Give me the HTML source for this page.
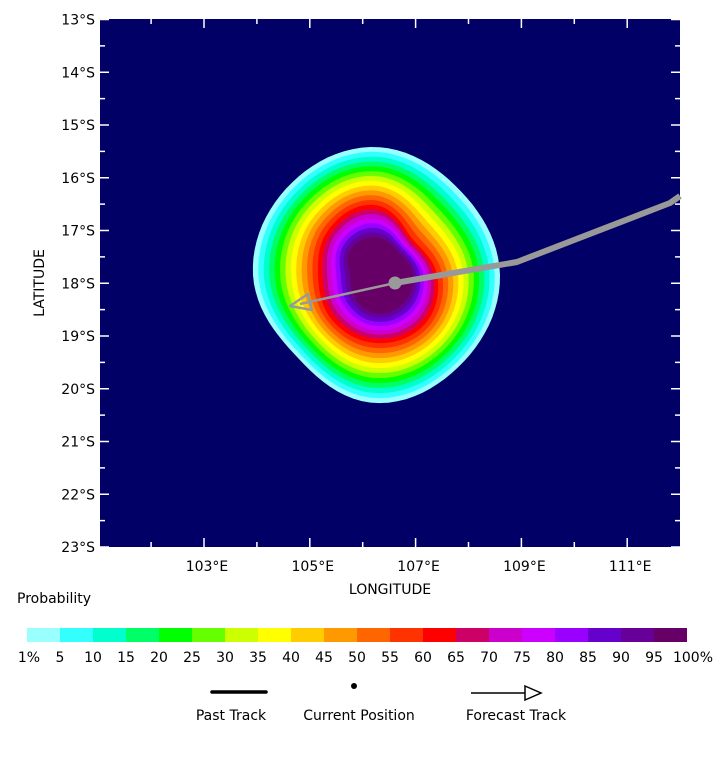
<!DOCTYPE html>
<html><head><meta charset="utf-8"><style>
html,body{margin:0;padding:0;background:#fff;}
svg text{font-family:"DejaVu Sans","Liberation Sans",sans-serif;font-size:14px;fill:#000;}
</style></head><body>
<svg id="s" width="720" height="757" viewBox="0 0 720 757" xmlns="http://www.w3.org/2000/svg">
<rect x="100" y="19" width="580" height="528" fill="#000066"/>
<g id="blob"></g>
<g id="ticks" stroke="#fff" stroke-width="1.5"></g>
<g stroke="#999" fill="none" stroke-linejoin="round">
<polyline points="680,196 670,203 517,262 395,283" stroke-width="6"/>
<line x1="395" y1="283" x2="300" y2="304" stroke-width="2.5"/>
<polygon points="290,306 308,294 312,310" stroke-width="2.5"/>
</g>
<circle cx="395" cy="283" r="6.5" fill="#999"/>
<g id="labels"></g>
<text x="44" y="283" text-anchor="middle" transform="rotate(-90 44 283)">LATITUDE</text>
<text x="390" y="594" text-anchor="middle">LONGITUDE</text>
<text x="17" y="603">Probability</text>
<g id="cbar"></g>
<line x1="212" y1="692" x2="266" y2="692" stroke="#000" stroke-width="3.5" stroke-linecap="round"/>
<circle cx="354" cy="686" r="3" fill="#000"/>
<line x1="471" y1="693" x2="525" y2="693" stroke="#000" stroke-width="1.5"/>
<polygon points="525,686 541,693 525,700" fill="none" stroke="#000" stroke-width="1.5"/>
<text x="231" y="720" text-anchor="middle">Past Track</text>
<text x="359" y="720" text-anchor="middle">Current Position</text>
<text x="516" y="720" text-anchor="middle">Forecast Track</text>
</svg>
<script>
var NS="http://www.w3.org/2000/svg";
function el(t,a,p,txt){var e=document.createElementNS(NS,t);for(var k in a)e.setAttribute(k,a[k]);if(txt!==undefined)e.textContent=txt;document.getElementById(p).appendChild(e);return e;}
var cols=["#99ffff","#33ffff","#00ffcc","#00ff66","#00ff00","#66ff00","#ccff00","#ffff00","#ffcc00","#ff9900","#ff6600","#ff3300","#ff0000","#cc0066","#cc00cc","#cc00ff","#9900ff","#6600cc","#660099","#660066"];
var labs=["1%","5","10","15","20","25","30","35","40","45","50","55","60","65","70","75","80","85","90","95","100%"];
for(var i=0;i<20;i++){el("rect",{x:27+i*33,y:628,width:33,height:14,fill:cols[i]},"cbar");}
for(var i=0;i<=20;i++){el("text",{x:27+i*33+(i==0?2:0)+(i==20?6:0),y:662,"text-anchor":"middle"},"cbar",labs[i]);}
var cx=375,cy=275;
var outer=[125,124,128,113,122,124,128,120];
var red=[62,70,68,62,57,65,70,52];
var core=[38,40,38,30,25,35,38,33];
function interp(arr,th){var n=8,t=(th/(2*Math.PI))*n;t=((t%n)+n)%n;var i0=Math.floor(t),f=t-i0;
 var p0=arr[(i0+n-1)%n],p1=arr[i0],p2=arr[(i0+1)%n],p3=arr[(i0+2)%n];
 return 0.5*((2*p1)+(-p0+p2)*f+(2*p0-5*p1+4*p2-p3)*f*f+(-p0+3*p1-3*p2+p3)*f*f*f);}
for(var L=0;L<20;L++){
 var pts=[];
 for(var k=0;k<90;k++){var th=k/90*2*Math.PI;var r;
  if(L<=12){var f=L/12;r=interp(outer,th)*(1-f)+interp(red,th)*f;}
  else{var f=(L-12)/7;r=interp(red,th)*(1-f)+interp(core,th)*f;}
  var x=cx+r*Math.cos(th),y=cy+r*Math.sin(th);
  pts.push(x.toFixed(1)+","+y.toFixed(1));}
 el("polygon",{points:pts.join(" "),fill:cols[L]},"blob");
}
function ly(lat){return 19.5+(lat-13)*52.75;}
function lx(lon){return 204+(lon-103)*52.9;}
for(var lat=13;lat<=23;lat+=0.5){var y=ly(lat);var big=(lat%1==0);var len=big?9:5;
 el("line",{x1:100,y1:y,x2:100+len,y2:y},"ticks");el("line",{x1:680,y1:y,x2:680-len,y2:y},"ticks");
 if(big)el("text",{x:95,y:y+5,"text-anchor":"end"},"labels",lat+"°S");}
for(var lon=102;lon<=111;lon++){var x=lx(lon);var big=(lon%2==1);var len=big?9:5;
 el("line",{x1:x,y1:547,x2:x,y2:547-len},"ticks");el("line",{x1:x,y1:19,x2:x,y2:19+len},"ticks");
 if(big)el("text",{x:x+3,y:571,"text-anchor":"middle"},"labels",lon+"°E");}
</script>
</body></html>
